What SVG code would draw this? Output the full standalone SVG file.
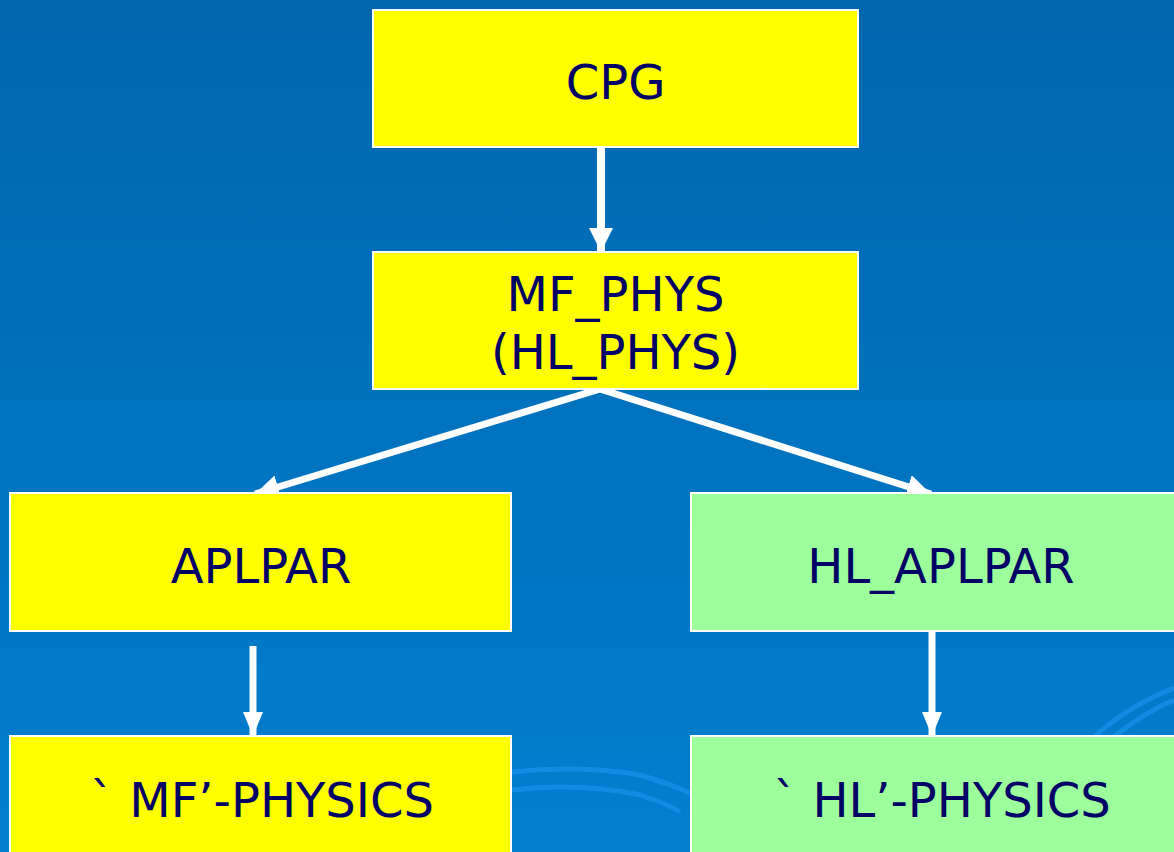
<svg xmlns="http://www.w3.org/2000/svg" width="1174" height="852" viewBox="0 0 1174 852">
<defs>
<linearGradient id="bg" x1="0" y1="0" x2="0" y2="1">
<stop offset="0" stop-color="#0066ae"/>
<stop offset="1" stop-color="#007fd0"/>
</linearGradient>
<marker id="ah" viewBox="0 0 24 24" refX="24" refY="12" markerWidth="24" markerHeight="24" markerUnits="userSpaceOnUse" orient="auto">
<path d="M0,0 L24,12 L0,24 Z" fill="#ffffff"/>
</marker>
<marker id="ahs" viewBox="0 0 24 20" refX="24" refY="10" markerWidth="24" markerHeight="20" markerUnits="userSpaceOnUse" orient="auto">
<path d="M0,0 L24,10 L0,20 Z" fill="#ffffff"/>
</marker>
</defs>
<style>
.box{stroke:#ffffff;stroke-width:2}
.y{fill:#ffff00}
.g{fill:#9cff9c}
.t{font-family:"DejaVu Sans","Verdana",sans-serif;font-size:48px;fill:#000066;text-anchor:middle}
.c{stroke:#ffffff;fill:none}
.deco{stroke:#1590e8;fill:none;stroke-width:5;opacity:0.8}
</style>
<rect x="0" y="0" width="1174" height="852" fill="url(#bg)"/>
<g id="background-decoration">
<path class="deco" d="M511,772 Q580,765 640,775 Q690,790 700,800"/>
<path class="deco" d="M511,790 Q580,782 640,795 Q670,805 680,812"/>
<path class="deco" d="M1095,736 Q1130,705 1174,688"/>
<path class="deco" d="M1115,736 Q1145,712 1174,700"/>
</g>
<g id="connectors">
<line class="c" x1="601" y1="147" x2="601" y2="252" stroke-width="8" marker-end="url(#ah)"/>
<line class="c" x1="600" y1="389" x2="255" y2="494" stroke-width="7" marker-end="url(#ah)"/>
<line class="c" x1="600" y1="389" x2="931" y2="494" stroke-width="7" marker-end="url(#ah)"/>
<line class="c" x1="253" y1="646" x2="253" y2="736" stroke-width="7" marker-end="url(#ahs)"/>
<line class="c" x1="932" y1="631" x2="932" y2="736" stroke-width="7" marker-end="url(#ahs)"/>
</g>
<g id="cpg">
<rect class="box y" x="373" y="10" width="485" height="137"/>
<text class="t" x="615.5" y="99">CPG</text>
</g>
<g id="mf_phys">
<rect class="box y" x="373" y="252" width="485" height="137"/>
<text class="t" x="615.5" y="311">MF_PHYS</text>
<text class="t" x="615.5" y="369">(HL_PHYS)</text>
</g>
<g id="aplpar">
<rect class="box y" x="10" y="493" width="501" height="138"/>
<text class="t" x="261" y="583">APLPAR</text>
</g>
<g id="hl_aplpar">
<rect class="box g" x="691" y="493" width="500" height="138"/>
<text class="t" x="941" y="583">HL_APLPAR</text>
</g>
<g id="mf_physics">
<rect class="box y" x="10" y="736" width="501" height="130"/>
<text class="t" x="262" y="817">` MF’-PHYSICS</text>
</g>
<g id="hl_physics">
<rect class="box g" x="691" y="736" width="500" height="130"/>
<text class="t" x="942" y="817">` HL’-PHYSICS</text>
</g>
</svg>
